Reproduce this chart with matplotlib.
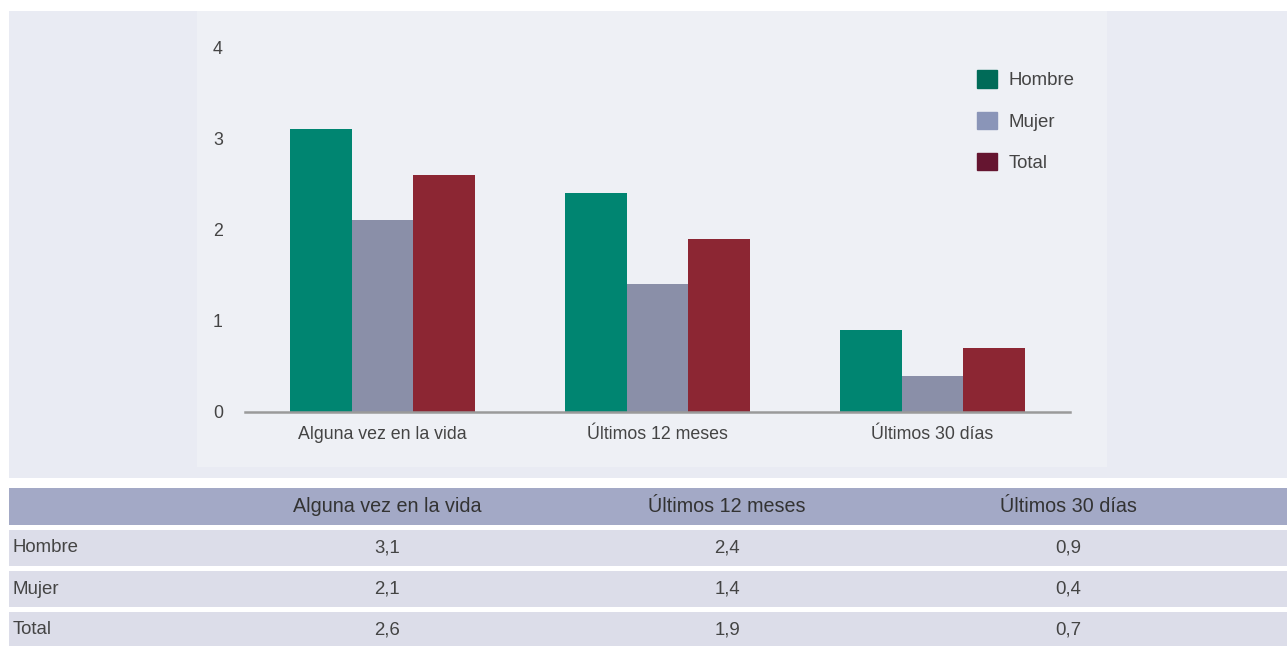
import numpy as np
import matplotlib.pyplot as plt
from matplotlib.patches import Rectangle, Patch

categorias = ['Alguna vez en la vida', 'Últimos 12 meses', 'Últimos 30 días']
series = ['Hombre', 'Mujer', 'Total']
hombre = [3.1, 2.4, 0.9]
mujer = [2.1, 1.4, 0.4]
total = [2.6, 1.9, 0.7]
valores = [hombre, mujer, total]
yticks = [0, 1, 2, 3, 4]

col_barras = ['#008571', '#8a8fa8', '#8c2633']
col_leyenda = ['#006b58', '#8a95b8', '#651530']
txt = '#444444'

W, H = 1287, 646
fig = plt.figure(figsize=(W / 100, H / 100), dpi=100, facecolor='white')
plt.rcParams['font.family'] = ['Liberation Sans', 'DejaVu Sans']

# fondo general en pixeles
bg = fig.add_axes([0, 0, 1, 1], zorder=0)
bg.set_xlim(0, W)
bg.set_ylim(H, 0)
bg.axis('off')
bg.add_patch(Rectangle((9, 11), W - 9, 467, color='#e9ebf3', lw=0))
bg.add_patch(Rectangle((197, 11), 910, 456, color='#eef0f5', lw=0))

# grafico de barras
x0, x1, ytop, ybot = 245, 1070, 47, 412
ax = fig.add_axes([x0 / W, 1 - ybot / H, (x1 - x0) / W, (ybot - ytop) / H], zorder=2)
ax.patch.set_visible(False)
x = np.arange(len(categorias))
w = 0.224
for i, (vals, c) in enumerate(zip(valores, col_barras)):
    ax.bar(x + (i - 1) * w, vals, w, color=c, zorder=2)
ax.set_xlim(-0.5, 2.5)
ax.set_ylim(0, 4)
ax.set_yticks(yticks)
ax.set_yticklabels([str(t) for t in yticks])
ax.set_xticks(x)
ax.set_xticklabels(categorias)
ax.tick_params(length=0, colors=txt, labelsize=12.8)
ax.tick_params(axis='y', pad=16)
ax.tick_params(axis='x', pad=10)
for s in ['top', 'right', 'left']:
    ax.spines[s].set_visible(False)
ax.spines['bottom'].set_color('#9a9a9a')
ax.spines['bottom'].set_linewidth(1.8)

handles = [Patch(color=c, label=s) for c, s in zip(col_leyenda, series)]
leg = ax.legend(handles=handles, loc='upper left',
                bbox_to_anchor=((970 - x0) / (x1 - x0), 1 - (63 - ytop) / (ybot - ytop)),
                frameon=False, fontsize=13.4, handlelength=1.05, handleheight=1.05,
                labelspacing=1.2, handletextpad=0.6, labelcolor=txt, borderaxespad=0)

# tabla
bg.add_patch(Rectangle((9, 488), W - 9, 37, color='#a3a9c6', lw=0))
filas_y = [530, 571, 612]
for yy in filas_y:
    bg.add_patch(Rectangle((9, yy), W - 9, 36, color='#dcdde9', lw=0))
col_x = [387, 727, 1068]
for cx, cat in zip(col_x, categorias):
    bg.text(cx, 506, cat, ha='center', va='center', fontsize=14.2, color='#333333')
for yy, s, vals in zip(filas_y, series, valores):
    bg.text(13, yy + 18, s, ha='left', va='center', fontsize=13.4, color=txt)
    for cx, v in zip(col_x, vals):
        bg.text(cx, yy + 18, f'{v:.1f}'.replace('.', ','), ha='center', va='center',
                fontsize=13.4, color=txt)

fig.savefig('out.png', dpi=100, facecolor='white')
